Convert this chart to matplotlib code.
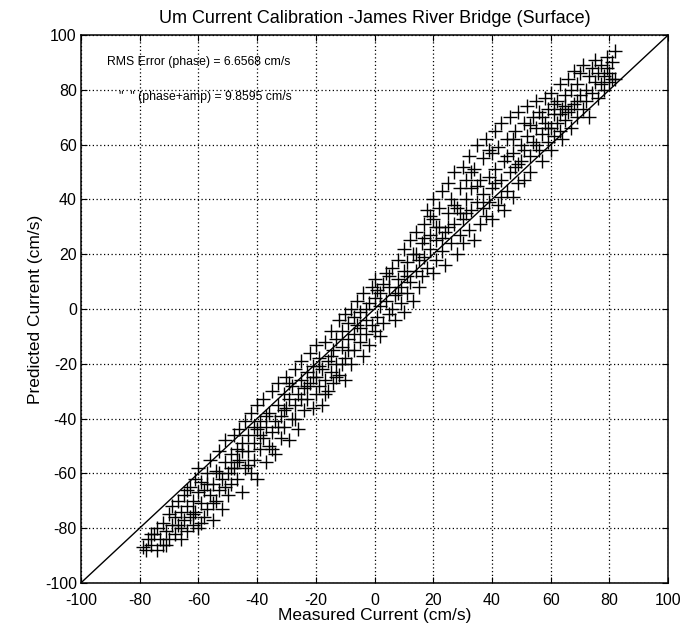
import matplotlib
matplotlib.use("Agg")
import matplotlib.pyplot as plt

plt.rcParams['font.family'] = ['Liberation Sans', 'DejaVu Sans']
plt.rcParams['axes.unicode_minus'] = False

# Ebb-tide samples (measured, predicted) in cm/s
ebb_measured = [
    -79, -78, -77, -76, -75, -74, -74, -73, -72, -72, -71, -70, -70, -69, -69, -68, -68, -67, -67, -66,
    -66, -65, -65, -64, -64, -63, -63, -62, -62, -61, -61, -60, -60, -60, -59, -59, -58, -58, -57, -57,
    -56, -56, -55, -55, -54, -54, -53, -53, -52, -52, -51, -51, -50, -50, -49, -49, -48, -48, -47, -47,
    -46, -46, -45, -45, -44, -44, -43, -43, -42, -42, -41, -41, -40, -40, -40, -39, -39, -38, -38, -37,
    -37, -36, -36, -35, -35, -34, -34, -33, -33, -32, -32, -31, -31, -30, -30, -29, -29, -28, -28, -27,
    -27, -26, -26, -25, -25, -24, -24, -23, -23, -22, -22, -21, -21, -20, -20, -20, -19, -19, -18, -18,
    -17, -17, -16, -16, -15, -15, -14, -14, -13, -13, -12, -12, -11, -11, -10, -10, -10, -9, -9, -8,
    -8, -7, -7, -6, -6, -5, -5, -4, -4, -3, -3, -2, -2, -1, -1,
    -76, -71, -66, -64, -62, -59, -57, -55, -53, -51, -49, -47, -45, -43, -41, -39, -37, -35, -33, -31,
    -29, -27, -25, -23, -21, -19, -17, -15, -13, -11, -9, -7, -5, -3,
]
ebb_predicted = [
    -87, -88, -84, -86, -82, -88, -80, -84, -86, -78, -81, -84, -75, -79, -72, -82, -76, -70, -79, -74,
    -84, -77, -68, -72, -81, -65, -76, -70, -79, -62, -74, -67, -80, -58, -71, -63, -76, -66, -60, -73,
    -68, -55, -64, -77, -59, -70, -52, -66, -62, -73, -56, -48, -60, -68, -53, -64, -46, -58, -62, -51,
    -55, -44, -67, -49, -58, -41, -52, -46, -60, -38, -49, -55, -44, -35, -62, -51, -41, -47, -33, -56,
    -43, -38, -50, -30, -45, -41, -53, -35, -27, -47, -39, -31, -43, -25, -36, -48, -33, -28, -40, -22,
    -35, -31, -44, -26, -19, -37, -29, -23, -33, -16, -27, -36, -21, -25, -13, -31, -18, -28, -22, -35,
    -12, -26, -19, -30, -8, -23, -15, -27, -11, -20, -4, -24, -14, -8, -18, -2, -26, -11, -5, -20,
    0, -9, -15, 3, -6, -12, -1, -17, 6, -4, -9, 2, -13, -6, 8,
    -82, -86, -80, -66, -75, -78, -64, -71, -60, -65, -58, -56, -52, -57, -43, -46, -39, -51, -43, -37,
    -27, -40, -33, -28, -25, -21, -31, -17, -25, -20, -15, -3, -7, 0,
]

# Flood-tide samples (measured, predicted) in cm/s
flood_measured = [
    0, 0, 0, 1, 1, 2, 2, 3, 3, 4, 4, 5, 5, 6, 6, 7, 7, 8, 8, 9,
    9, 10, 10, 10, 11, 11, 12, 12, 13, 13, 14, 14, 15, 15, 16, 16, 17, 17, 18, 18,
    19, 19, 20, 20, 20, 21, 21, 22, 22, 23, 23, 24, 24, 25, 25, 26, 26, 27, 27, 28,
    28, 29, 29, 30, 30, 30, 31, 31, 32, 32, 33, 33, 34, 34, 35, 35, 36, 36, 37, 37,
    38, 38, 39, 39, 40, 40, 40, 41, 41, 42, 42, 43, 43, 44, 44, 45, 45, 46, 46, 47,
    47, 48, 48, 49, 49, 50, 50, 51, 51, 52, 52, 53, 53, 54, 54, 55, 55, 56, 56, 57,
    57, 58, 58, 59, 59, 60, 60, 60, 61, 61, 62, 62, 63, 63, 64, 64, 65, 65, 66, 66,
    67, 67, 68, 68, 69, 69, 70, 70, 71, 71, 72, 72, 73, 73, 74, 74, 75, 75, 76, 76,
    77, 77, 78, 78, 79, 79, 80, 80, 81, 81, 82, 82,
    31, 33, 35, 37, 39, 41, 43, 45, 47, 49, 51, 53, 55, 57, 59, 61, 63, 65, 67, 69,
    2, 5, 8, 11, 14, 17, 19, 21, 23, 25, 27, 29,
]
flood_predicted = [
    -8, 4, 11, -3, 7, -10, 1, 9, -5, 3, 13, -2, 8, 15, 0, 5, -4, 11, 18, 2,
    8, 14, 22, -1, 6, 17, 25, 10, 3, 20, 14, 28, 8, 18, 24, 12, 31, 19, 15, 36,
    22, 27, 13, 33, 40, 25, 18, 37, 30, 21, 43, 28, 16, 35, 46, 24, 40, 31, 50, 20,
    37, 44, 27, 33, 52, 24, 40, 47, 29, 56, 36, 44, 25, 51, 39, 60, 31, 47, 55, 42,
    34, 62, 48, 39, 57, 44, 33, 65, 51, 38, 59, 47, 68, 54, 36, 62, 43, 50, 70, 57,
    41, 65, 52, 46, 72, 60, 54, 68, 47, 63, 74, 56, 50, 70, 61, 66, 76, 58, 72, 64,
    54, 77, 68, 61, 73, 66, 79, 58, 71, 63, 76, 68, 82, 65, 73, 62, 78, 69, 84, 72,
    66, 80, 75, 87, 70, 82, 78, 86, 73, 89, 80, 76, 85, 70, 88, 79, 83, 91, 77, 86,
    82, 89, 85, 80, 88, 92, 83, 86, 90, 84, 94, 84,
    35, 50, 45, 37, 58, 46, 41, 56, 62, 53, 58, 67, 60, 70, 66, 75, 71, 74, 73, 76,
    6, 12, 6, 12, 20, 26, 34, 30, 26, 30, 38, 35,
]

axis_ticks = list(range(-100, 101, 20))

fig = plt.figure(figsize=(6.86, 6.37), dpi=100)
ax = fig.add_axes([0.118, 0.085, 0.856, 0.860])

ax.plot([-100, 100], [-100, 100], color='black', linewidth=1.0, zorder=2)
ax.plot(ebb_measured, ebb_predicted, linestyle='none', marker='+', markersize=10,
        markeredgewidth=1.0, color='black', zorder=3)
ax.plot(flood_measured, flood_predicted, linestyle='none', marker='+', markersize=10,
        markeredgewidth=1.0, color='black', zorder=3)

ax.set_xlim(-100, 100)
ax.set_ylim(-100, 100)
ax.set_xticks(axis_ticks)
ax.set_yticks(axis_ticks)
ax.grid(True, color='black', linestyle=(0, (1, 2)), linewidth=0.9)
ax.tick_params(direction='in', length=4, width=0.8, labelsize=11.5,
               top=True, right=True, colors='black')
ax.tick_params(axis='x', pad=7)
ax.tick_params(axis='y', pad=3)
for s in ax.spines.values():
    s.set_linewidth(1.1)
    s.set_color('black')

ax.set_title('Um Current Calibration -James River Bridge (Surface)', fontsize=13, pad=9)
ax.set_xlabel('Measured Current (cm/s)', fontsize=12.5, labelpad=0)
ax.set_ylabel('Predicted Current (cm/s)', fontsize=12.5, labelpad=1)

ax.text(-91, 90, 'RMS Error (phase) = 6.6568 cm/s', fontsize=8.8, va='center', ha='left')
ax.text(-87, 77.5, '"  " (phase+amp) = 9.8595 cm/s', fontsize=8.8, va='center', ha='left')

fig.savefig('out.png', dpi=100)
